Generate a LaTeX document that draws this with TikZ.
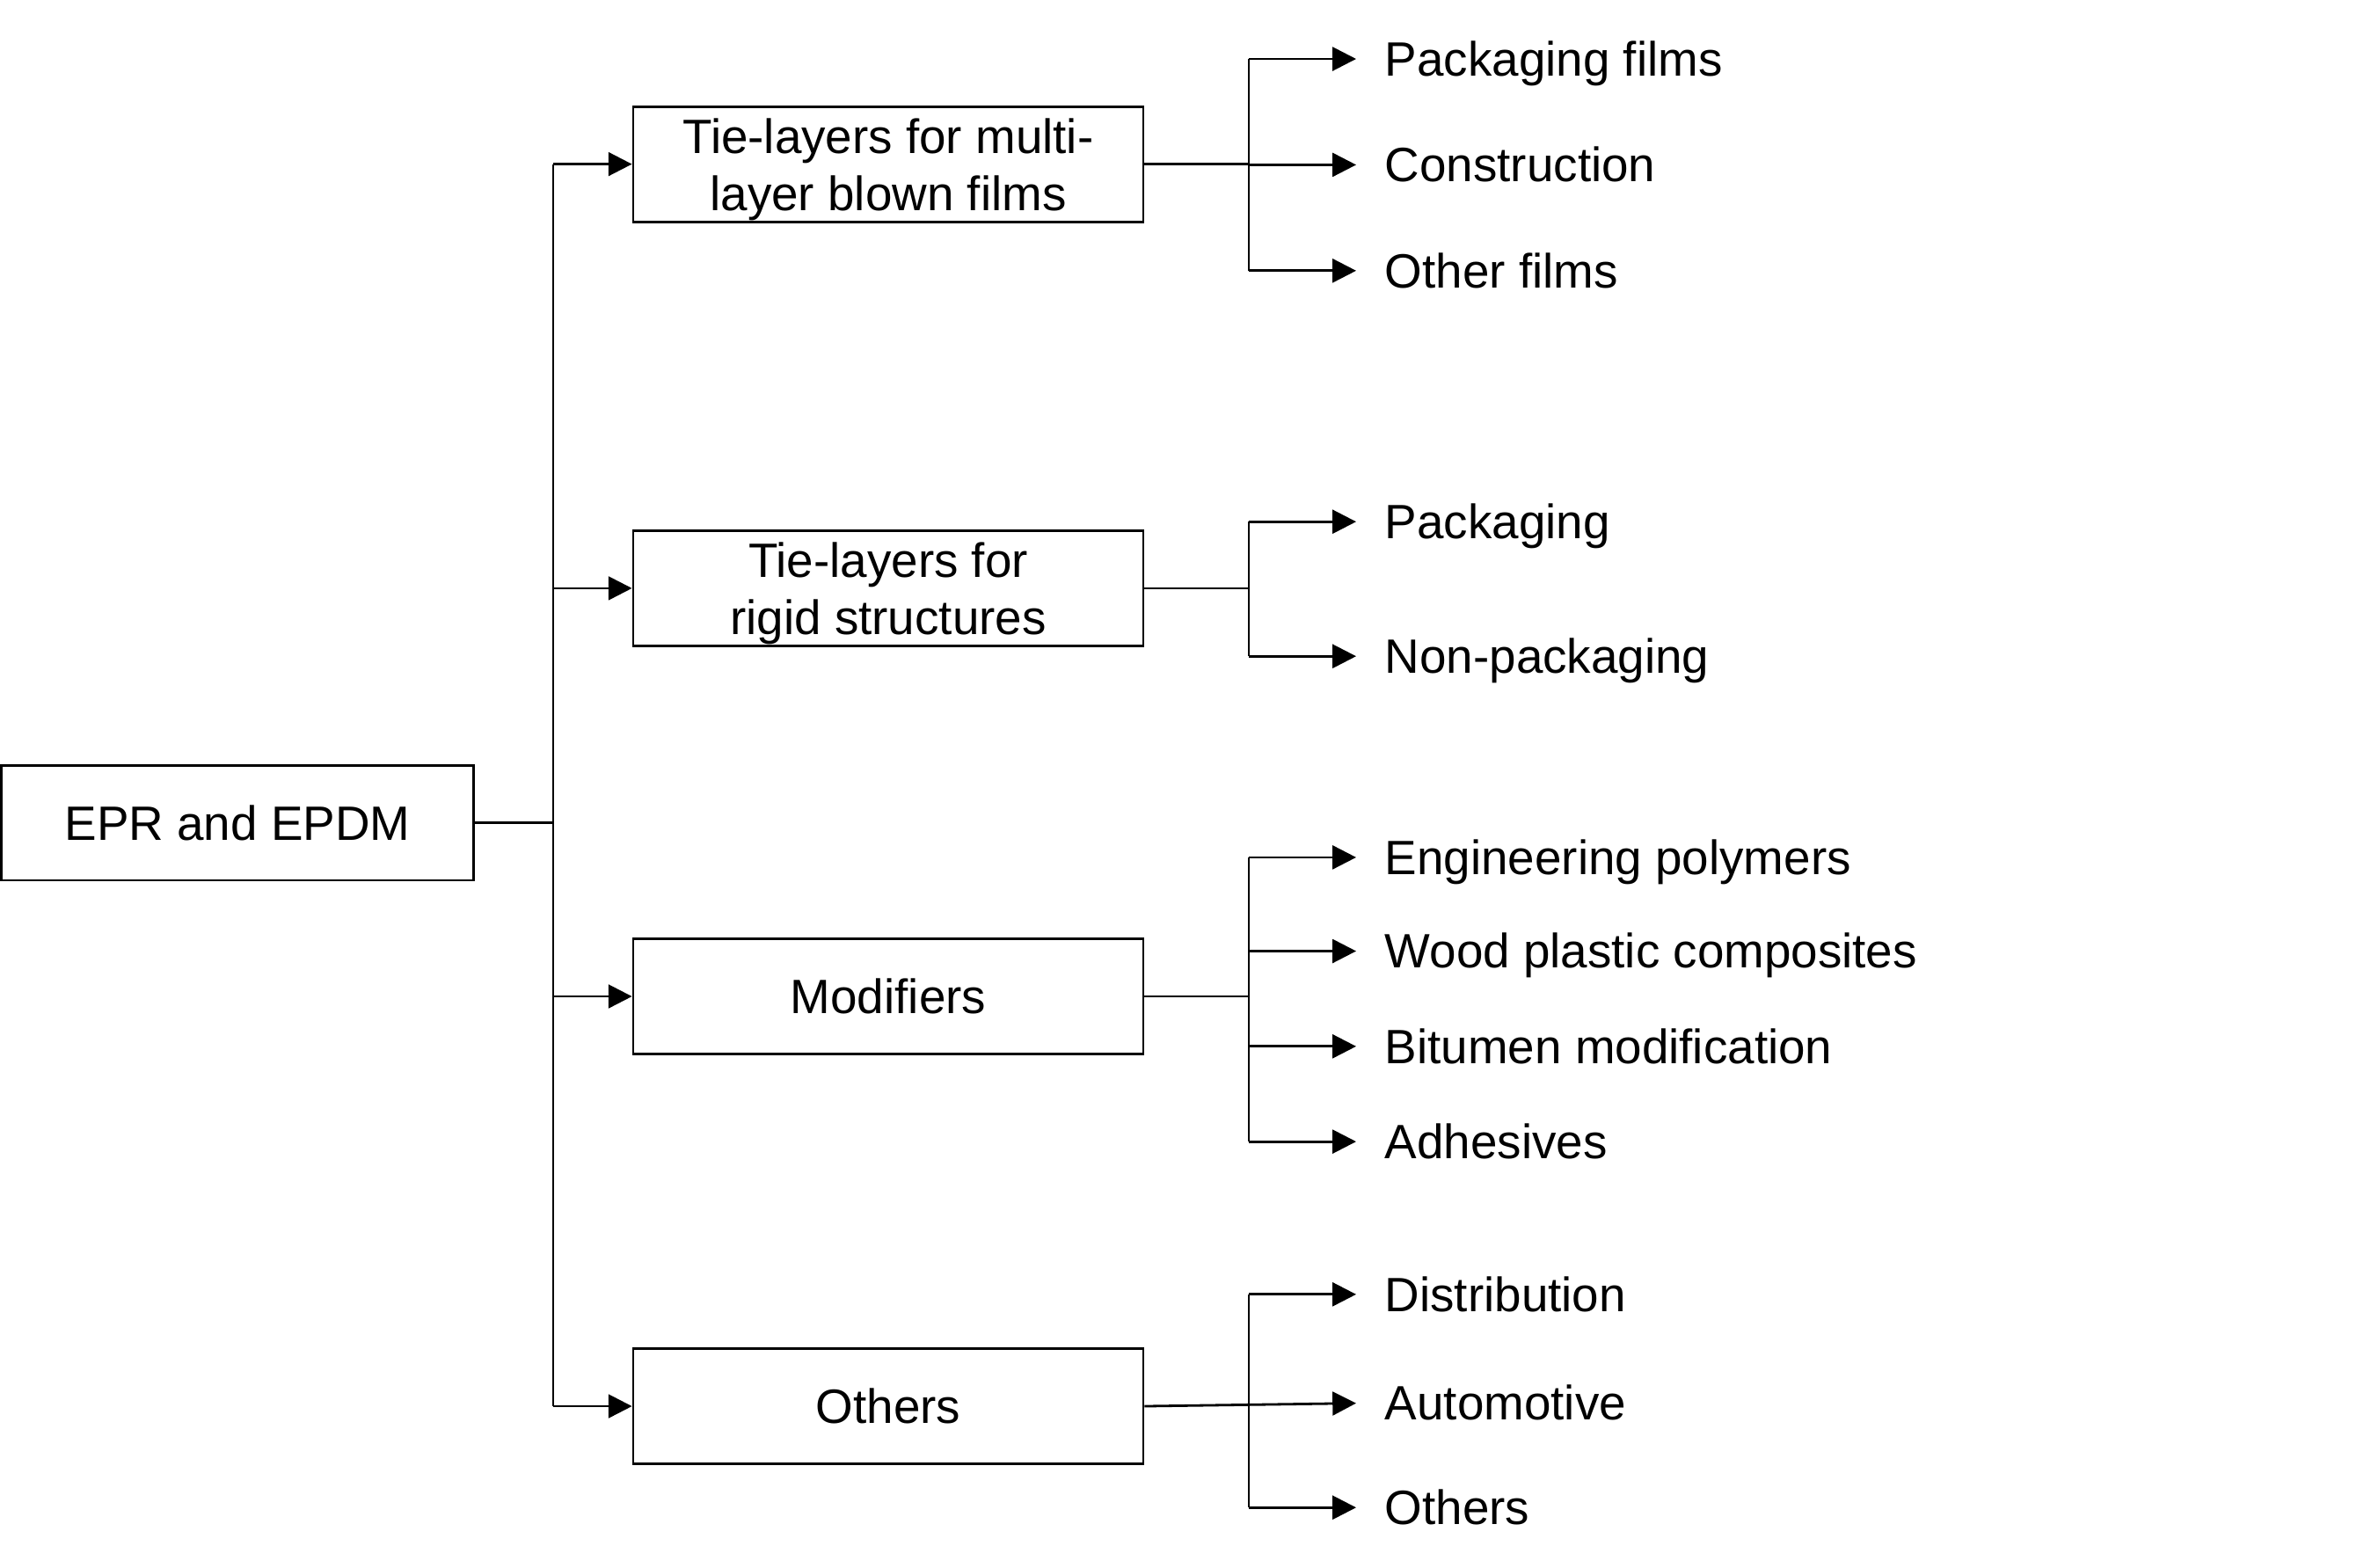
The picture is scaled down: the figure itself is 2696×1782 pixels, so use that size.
\documentclass[tikz,border=0pt]{standalone}
\usepackage{fontspec}
\setmainfont{Liberation Sans}
\usetikzlibrary{arrows.meta}
\begin{document}
\begin{tikzpicture}[x=0.25pt,y=-0.25pt,
  every node/.style={font=\fontsize{13.7}{16.3}\selectfont},
  box/.style={draw, line width=0.7pt, inner sep=0pt, minimum width=145pt, minimum height=32.75pt, align=center},
  boxtext/.style={inner sep=0pt, align=center},
  leaf/.style={anchor=west, inner xsep=8pt, inner ysep=0pt, text height=9.6pt, text depth=0pt},
  conn/.style={line width=0.7pt},
  arr/.style={conn, -{Triangle[length=6.7pt,width=6.7pt]}}]
\useasboundingbox (0,0) rectangle (2696,1782);

% root
\node[box, minimum width=134.1pt, minimum height=32.7pt] (epr) at (270,935.5) {EPR and EPDM};

% second level
\node[box] (b1) at (1010,186.6) {};
\node[boxtext] (t1) at ([yshift=-1.5pt]b1.center) {Tie-layers for multi-\\layer blown films};
\node[box] (b2) at (1010,668.9) {};
\node[boxtext] (t2) at ([yshift=-1.5pt]b2.center) {Tie-layers for\\rigid structures};
\node[box] (b3) at (1010,1133) {Modifiers};
\node[box] (b4) at (1010,1599) {Others};

% leaves
\node[leaf] (l11) at (1542,67) {Packaging films};
\node[leaf] (l12) at (1542,187.4) {Construction};
\node[leaf] (l13) at (1542,307.8) {Other films};
\node[leaf] (l21) at (1542,593.2) {Packaging};
\node[leaf] (l22) at (1542,746.2) {Non-packaging};
\node[leaf] (l31) at (1542,974.9) {Engineering polymers};
\node[leaf] (l32) at (1542,1081.5) {Wood plastic composites};
\node[leaf] (l33) at (1542,1189.8) {Bitumen modification};
\node[leaf] (l34) at (1542,1298.1) {Adhesives};
\node[leaf] (l41) at (1542,1471.8) {Distribution};
\node[leaf] (l42) at (1542,1595.6) {Automotive};
\node[leaf] (l43) at (1542,1714.2) {Others};

% trunk
\coordinate (tr) at (629,935.5);
\coordinate (br) at (1420,0);
\draw[conn] (epr.east) -- (tr);
\draw[conn] (tr |- b1.west) -- (tr |- b4.west);
\foreach \b in {b1,b2,b3,b4} \draw[arr] (tr |- \b.west) -- (\b.west);

% group 1
\draw[conn] (b1.east) -- (br |- b1.east);
\draw[conn] (br |- l11.west) -- (br |- l13.west);
\foreach \l in {l11,l12,l13} \draw[arr] (br |- \l.west) -- (\l.west);

% group 2
\draw[conn] (b2.east) -- (br |- b2.east);
\draw[conn] (br |- l21.west) -- (br |- l22.west);
\foreach \l in {l21,l22} \draw[arr] (br |- \l.west) -- (\l.west);

% group 3
\draw[conn] (b3.east) -- (br |- b3.east);
\draw[conn] (br |- l31.west) -- (br |- l34.west);
\foreach \l in {l31,l32,l33,l34} \draw[arr] (br |- \l.west) -- (\l.west);

% group 4
\draw[arr] (b4.east) -- (l42.west);
\draw[conn] (br |- l41.west) -- (br |- l43.west);
\foreach \l in {l41,l43} \draw[arr] (br |- \l.west) -- (\l.west);
\end{tikzpicture}
\end{document}
